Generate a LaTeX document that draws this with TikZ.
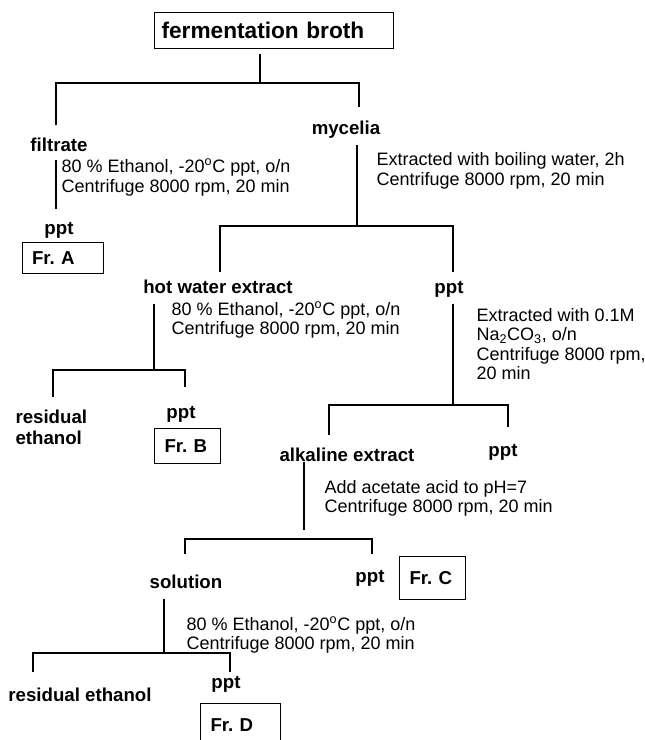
\documentclass[tikz,border=0pt]{standalone}
\usepackage{fontspec}
\setmainfont{Liberation Sans}

\begin{document}
\begin{tikzpicture}[x=0.75pt,y=-0.75pt,line width=0.8pt,
        lbl/.style={inner sep=0pt,text height=10pt,text depth=3pt,font=\fontsize{14}{16}\selectfont\bfseries},
        note/.style={anchor=west,inner sep=0pt,align=left,font=\fontsize{13.5}{14.5}\selectfont},
        frbox/.style={draw,anchor=north west,inner xsep=7.5pt,inner ysep=0pt,align=left,font=\fontsize{14}{16}\selectfont\bfseries}]
    \useasboundingbox (0,0) rectangle (644,740);
    \clip (0,0) rectangle (644,740);

    \node[draw,anchor=north west,inner xsep=5.25pt,text width=168.75pt,minimum height=27pt,align=left,
          font=\fontsize{17}{20}\selectfont\bfseries] (broth) at (154,12) {fermentation broth};

    \begin{scope}[every node/.style={lbl}]
        \node (filtrate) at (59,147) {filtrate};
        \node (mycelia) at (346,130) {mycelia};
        \node (pptA) at (59,230) {ppt};
        \node (hotwater) at (218,289) {hot water extract};
        \node (pptHW) at (449,289) {ppt};
        \node[anchor=west,align=left,text height=,text depth=] (residualB) at (15,427) {residual\\ethanol};
        \node (pptB) at (181,414) {ppt};
        \node (alkaline) at (347,457) {alkaline extract};
        \node (pptAlk) at (503,452) {ppt};
        \node (solution) at (186,584) {solution};
        \node (pptC) at (370,578) {ppt};
        \node (residualD) at (80,697) {residual ethanol};
        \node (pptD) at (226,684) {ppt};
    \end{scope}

    \node[frbox,text width=46.1pt,minimum height=23.25pt] (frA) at (21.5,242) {Fr.\ A};
    \node[frbox,text width=34.5pt,minimum height=26.25pt] (frB) at (154,428) {Fr.\ B};
    \node[frbox,text width=34.5pt,minimum height=32.25pt] (frC) at (399,556) {Fr.\ C};
    \node[frbox,text width=45pt,minimum height=33pt] (frD) at (200,703) {Fr.\ D};

    \node[note] (stepA) at (61,177.5) {80 \% Ethanol, -20\textsuperscript{o}C ppt, o/n\\Centrifuge 8000 rpm, 20 min};
    \node[note] (stepM) at (376,171) {Extracted with boiling water, 2h\\Centrifuge 8000 rpm, 20 min};
    \node[note] (stepB) at (171,320) {80 \% Ethanol, -20\textsuperscript{o}C ppt, o/n\\Centrifuge 8000 rpm, 20 min};
    \node[note] (stepP) at (476,344) {Extracted with 0.1M\\Na\textsubscript{2}CO\textsubscript{3}, o/n\\Centrifuge 8000 rpm,\\20 min};
    \node[note] (stepC) at (324,498.5) {Add acetate acid to pH=7\\Centrifuge 8000 rpm, 20 min};
    \node[note] (stepD) at (186,635) {80 \% Ethanol, -20\textsuperscript{o}C ppt, o/n\\Centrifuge 8000 rpm, 20 min};

    \coordinate (j1) at (260,83);
    \coordinate (j2) at (357,226);
    \coordinate (j3) at (154,370);
    \coordinate (j4) at (453,405);
    \coordinate (j5) at (304,539);
    \coordinate (j6) at (164,653);
    \coordinate (e1a) at (56,125);
    \coordinate (e1b) at (359,107);
    \coordinate (e2a) at (220,272);
    \coordinate (e2b) at (453,272);
    \coordinate (e3a) at (53,397);
    \coordinate (e3b) at (185,387);
    \coordinate (e4a) at (329,435);
    \coordinate (e4b) at (508,427);
    \coordinate (e5a) at (185,554);
    \coordinate (e5b) at (372,554);
    \coordinate (e6a) at (33,672);
    \coordinate (e6b) at (230,672);

    \draw[shorten <=3.75pt] (broth.south -| j1) -- (j1);
    \draw (e1a) |- (j1) -| (e1b);
    \draw[shorten <=3.2pt,shorten >=8.5pt] (filtrate.south -| e1a) -- (pptA.north -| e1a);
    \draw[shorten <=4.7pt] (mycelia.south -| j2) -- (j2);
    \draw (e2a) |- (j2) -| (e2b);
    \draw[shorten <=4pt] (hotwater.south -| j3) -- (j3);
    \draw (e3a) |- (j3) -| (e3b);
    \draw[shorten <=4pt] (pptHW.south -| j4) -- (j4);
    \draw (e4a) |- (j4) -| (e4b);
    \draw[shorten >=6.75pt] (alkaline.base -| j5) -- (j5);
    \draw (e5a) |- (j5) -| (e5b);
    \draw[shorten <=4pt] (solution.south -| j6) -- (j6);
    \draw (e6a) |- (j6) -| (e6b);
\end{tikzpicture}
\end{document}
